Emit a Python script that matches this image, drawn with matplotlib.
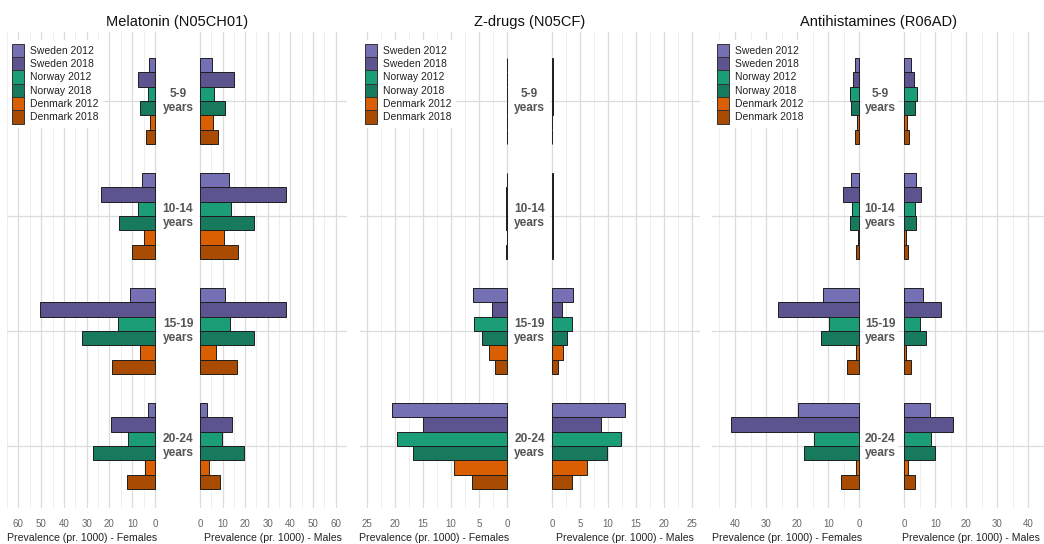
import numpy as np
import matplotlib
matplotlib.use("Agg")
import matplotlib.pyplot as plt
from matplotlib.patches import Patch
from matplotlib.transforms import blended_transform_factory

plt.rcParams["font.family"] = ["Liberation Sans", "DejaVu Sans"]

# ---- data: prevalence per 1000, rows = age groups, columns = series ----
age_groups = ["5-9\nyears", "10-14\nyears", "15-19\nyears", "20-24\nyears"]
series = ["Sweden 2012", "Sweden 2018", "Norway 2012",
          "Norway 2018", "Denmark 2012", "Denmark 2018"]
series_colors = ["#7570b3", "#5b548f", "#1b9e77", "#187a5c", "#d95f02", "#a94c02"]

drug_titles = ["Melatonin (N05CH01)", "Z-drugs (N05CF)", "Antihistamines (R06AD)"]

melatonin_females = [
    [2.4, 7.3, 3.1, 6.6, 2.1, 4.0],
    [5.9, 23.7, 7.3, 15.7, 4.9, 9.9],
    [11.0, 50.7, 16.1, 32.1, 6.4, 18.7],
    [3.1, 19.3, 11.9, 27.0, 4.4, 12.4],
]
melatonin_males = [
    [5.3, 15.0, 6.4, 11.0, 5.7, 8.0],
    [12.9, 38.0, 13.9, 24.0, 10.6, 16.7],
    [11.0, 38.1, 13.4, 24.0, 7.1, 16.3],
    [3.1, 14.0, 9.6, 19.7, 4.1, 9.1],
]
zdrugs_females = [
    [0.03, 0.03, 0.03, 0.03, 0.02, 0.03],
    [0.08, 0.10, 0.12, 0.18, 0.06, 0.10],
    [6.1, 2.7, 5.9, 4.5, 3.3, 2.1],
    [20.6, 15.0, 19.6, 16.8, 9.4, 6.3],
]
zdrugs_males = [
    [0.05, 0.05, 0.05, 0.05, 0.04, 0.04],
    [0.12, 0.12, 0.10, 0.18, 0.06, 0.10],
    [3.8, 1.7, 3.5, 2.6, 1.85, 1.1],
    [13.0, 8.8, 12.4, 9.9, 6.2, 3.5],
]
antihist_females = [
    [1.4, 2.0, 2.9, 2.7, 0.9, 1.4],
    [2.7, 5.4, 2.5, 3.1, 0.4, 1.0],
    [11.6, 26.3, 9.9, 12.3, 1.0, 3.9],
    [19.7, 41.2, 14.5, 17.8, 1.2, 5.8],
]
antihist_males = [
    [2.2, 3.1, 4.0, 3.5, 0.9, 1.4],
    [3.6, 5.2, 3.3, 3.7, 0.5, 1.2],
    [6.1, 11.9, 5.1, 6.8, 0.6, 2.2],
    [8.4, 15.7, 8.6, 9.7, 1.0, 3.3],
]

female_data = [melatonin_females, zdrugs_females, antihist_females]
male_data = [melatonin_males, zdrugs_males, antihist_males]
major_ticks = [np.arange(0, 61, 10), np.arange(0, 26, 5), np.arange(0, 41, 10)]
minor_ticks = [np.arange(5, 66, 10), np.arange(2.5, 26, 5), np.arange(5, 46, 10)]

# ---- layout (pixels on a 1044 x 544 canvas) ----
W, H = 1044, 544
fig = plt.figure(figsize=(W / 100, H / 100), dpi=100)
fig.patch.set_facecolor("white")

top_px, bottom_px = 32, 508
# (left, right, xlim_left, xlim_right) for the female and male axes
female_geom = [(7, 157, 63.4, -0.9), (360, 509, 26.3, -0.35), (712, 862, 47.4, -0.85)]
male_geom = [(199, 347, -0.4, 63.0), (550, 700, -0.4, 26.5), (898, 1044, -2.1, 45.1)]

n_series = len(series)
bar_h = 0.75 / n_series
offsets = (np.arange(n_series) - (n_series - 1) / 2) * bar_h
y_pos = np.arange(len(age_groups))

grid_major = "#dcdcdc"
grid_minor = "#ebebeb"
text_gray = "#555555"


def make_axes(left, right):
    return fig.add_axes([left / W, 1 - bottom_px / H,
                         (right - left) / W, (bottom_px - top_px) / H])


def style_axes(ax, xlim, majors, minors, xlabel):
    ax.set_xlim(*xlim)
    ax.set_ylim(len(age_groups) - 1 + 0.54, -0.6)
    ax.set_xticks(majors)
    ax.set_xticks(minors, minor=True)
    ax.set_xticklabels([f"{v:g}" for v in majors])
    ax.set_yticks(y_pos)
    ax.set_yticklabels([])
    ax.tick_params(axis="both", which="both", length=0)
    ax.tick_params(axis="x", labelsize=7.0, labelcolor="#666666", pad=8)
    ax.grid(True, axis="x", which="major", color=grid_major, lw=0.9)
    ax.grid(True, axis="x", which="minor", color=grid_minor, lw=0.6)
    ax.grid(True, axis="y", which="major", color=grid_major, lw=0.9)
    ax.set_axisbelow(True)
    for s in ax.spines.values():
        s.set_visible(False)
    ax.set_xlabel(xlabel, fontsize=7.6, color="#222222", labelpad=3)


for p in range(3):
    fl, fr, fx0, fx1 = female_geom[p]
    ml, mr, mx0, mx1 = male_geom[p]
    ax_f = make_axes(fl, fr)
    ax_m = make_axes(ml, mr)
    fvals = np.array(female_data[p])
    mvals = np.array(male_data[p])
    for j in range(n_series):
        ax_f.barh(y_pos + offsets[j], fvals[:, j], height=bar_h,
                  color=series_colors[j], edgecolor="#1e1e1e", linewidth=0.7)
        ax_m.barh(y_pos + offsets[j], mvals[:, j], height=bar_h,
                  color=series_colors[j], edgecolor="#1e1e1e", linewidth=0.7)
    style_axes(ax_f, (fx0, fx1), major_ticks[p], minor_ticks[p],
               "Prevalence (pr. 1000) - Females")
    style_axes(ax_m, (mx0, mx1), major_ticks[p], minor_ticks[p],
               "Prevalence (pr. 1000) - Males")

    # age-group labels between the two halves
    mid_x = ((fr + ml) / 2) / W
    trans = blended_transform_factory(fig.transFigure, ax_f.transData)
    for i, lab in enumerate(age_groups):
        ax_f.text(mid_x, y_pos[i], lab, transform=trans, ha="center", va="center",
                  fontsize=8.6, fontweight="bold", color=text_gray,
                  linespacing=1.2, clip_on=False)

    # panel title
    fig.text(((fl + mr) / 2) / W, 1 - 22 / H, drug_titles[p], ha="center",
             va="center", fontsize=10.5, color="#111111")

    # legend in the upper-left corner of each panel
    handles = [Patch(facecolor=c, edgecolor="#333333", linewidth=0.7)
               for c in series_colors]
    leg = ax_f.legend(handles, series, loc="upper left",
                      bbox_to_anchor=((fl + 1) / W, 1 - 40 / H),
                      bbox_transform=fig.transFigure, fontsize=7.5,
                      frameon=True, fancybox=False, framealpha=1.0,
                      edgecolor="white", facecolor="white",
                      handlelength=1.18, handleheight=1.59, handletextpad=0.6,
                      labelspacing=0.0, borderpad=0.35, borderaxespad=0.0)
    leg.set_zorder(10)
    for t in leg.get_texts():
        t.set_color("#222222")

fig.savefig("out.png", dpi=100, facecolor="white")
